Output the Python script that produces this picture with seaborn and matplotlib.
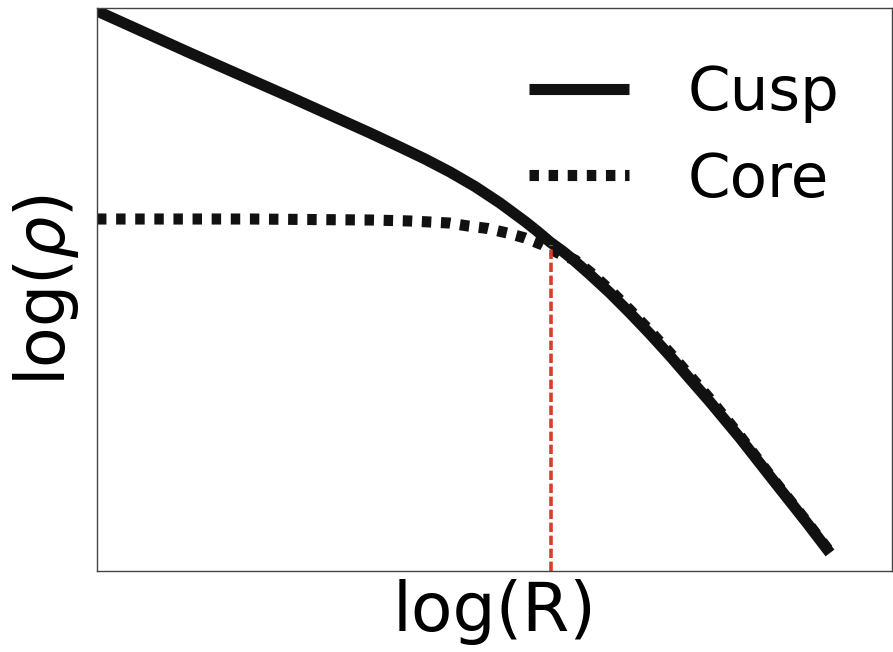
import matplotlib
matplotlib.use("Agg")
import matplotlib.pyplot as plt
import seaborn as sns
import pandas as pd

# ---- data (arbitrary log units) ----
cusp_x = [0.000, 1.170, 2.428, 3.434, 3.811, 4.126, 4.440, 4.755, 5.069,
          5.384, 5.535, 5.698, 5.862, 5.987, 6.201, 6.453, 6.704, 6.956,
          7.208, 7.459, 7.711, 8.088, 8.503, 8.931, 9.220]
cusp_y = [9.947, 9.201, 8.419, 7.780, 7.531, 7.318, 7.087, 6.829, 6.536,
          6.208, 6.039, 5.844, 5.675, 5.533, 5.266, 4.938, 4.583, 4.210,
          3.819, 3.410, 3.002, 2.362, 1.616, 0.853, 0.320]

core_x = [0.000, 1.925, 3.459, 3.937, 4.189, 4.428, 4.667, 4.918, 5.157,
          5.384, 5.610, 5.824, 6.013, 6.201, 6.453, 6.704, 6.956, 7.208,
          7.459, 7.711, 8.088, 8.503, 8.931, 9.220]
core_y = [6.252, 6.252, 6.234, 6.217, 6.199, 6.181, 6.128, 6.083, 6.004,
          5.915, 5.790, 5.631, 5.524, 5.311, 4.991, 4.636, 4.263, 3.872,
          3.464, 3.055, 2.398, 1.634, 0.870, 0.337]

r_core_x = 5.711
r_core_top = 5.790

labels = ["Cusp", "Core"]

sns.set_style("white")
plt.rcParams["font.family"] = ["DejaVu Sans"]
plt.rcParams["text.color"] = "black"
plt.rcParams["axes.labelcolor"] = "black"

fig = plt.figure(figsize=(8.93, 6.52), dpi=100)
ax = fig.add_axes([97 / 893, 81 / 652, 795 / 893, 563 / 652])

df_cusp = pd.DataFrame({"x": cusp_x, "y": cusp_y})
df_core = pd.DataFrame({"x": core_x, "y": core_y})

lw = 8
sns.lineplot(data=df_cusp, x="x", y="y", ax=ax, color="#111111", lw=lw,
             sort=False, label=labels[0], solid_capstyle="butt",
             solid_joinstyle="round")
sns.lineplot(data=df_core, x="x", y="y", ax=ax, color="#111111", lw=lw,
             sort=False, label=labels[1])
core_line = ax.get_lines()[-1]
core_line.set_dashes((0.85, 0.87))
core_line.set_dash_capstyle("butt")

ax.vlines(r_core_x, 0, r_core_top, colors="#d4402b", lw=2.6,
          linestyles=(0, (2.6, 1.0)))

ax.set_xlim(0, 10)
ax.set_ylim(0, 10)
ax.set_xticks([])
ax.set_yticks([])
for s in ax.spines.values():
    s.set_color("#444444")
    s.set_linewidth(1.0)
    s.set_visible(True)

ax.set_xlabel("log(R)", fontsize=49, labelpad=5.5, color="black")
ax.set_ylabel(r"log($\rho$)", fontsize=48, labelpad=11.5, color="black")

leg = ax.legend(loc="upper left", bbox_to_anchor=(0.5434, 0.900),
                frameon=False, fontsize=44, handlelength=1.64,
                handletextpad=0.95, labelspacing=0.45, borderpad=0,
                borderaxespad=0)
for t in leg.get_texts():
    t.set_color("black")
for h in leg.get_lines():
    h.set_linewidth(lw)
    h.set_solid_capstyle("butt")
leg.get_lines()[1].set_dashes((0.85, 0.87))

fig.savefig("out.png", dpi=100)
